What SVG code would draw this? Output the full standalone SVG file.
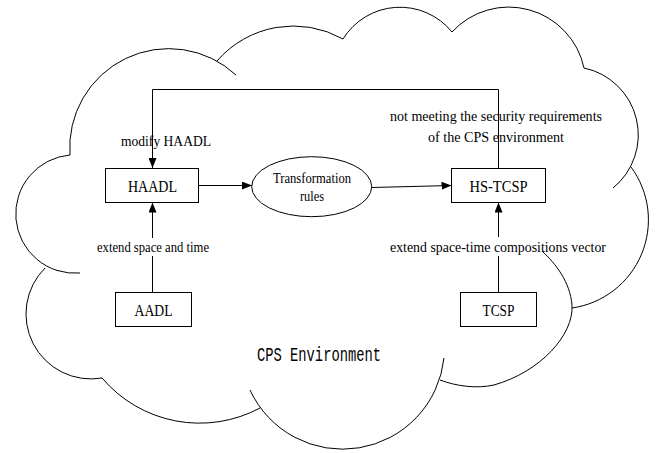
<svg xmlns="http://www.w3.org/2000/svg" width="657" height="453" viewBox="0 0 657 453">
<defs>
<marker id="arr" viewBox="0 0 10 8" markerWidth="10" markerHeight="8" refX="10" refY="4" orient="auto" markerUnits="userSpaceOnUse">
<path d="M0,0 L10,4 L0,8 z" fill="#000"/>
</marker>
<style>
.cloud{fill:none;stroke:#000;stroke-width:1}
.box{fill:#fff;stroke:#000;stroke-width:1}
.ln{fill:none;stroke:#000;stroke-width:1}
.lbl{font-family:"Liberation Serif","Times New Roman",serif;font-size:14px;fill:#000;text-anchor:middle}
.nt{font-family:"Liberation Serif","Times New Roman",serif;font-size:14px;fill:#000;text-anchor:middle}
.env{font-family:"Liberation Mono","Courier New",monospace;font-size:15px;fill:#000}
</style>
</defs>
<rect width="657" height="453" fill="#fff"/>
<g id="cloud">
<path class="cloud" d="M70,155 A99,99 0 0 1 236,75"/>
<path class="cloud" d="M217,61 A101,101 0 0 1 343,39"/>
<path class="cloud" d="M343,39 A67,67 0 0 1 452,32"/>
<path class="cloud" d="M452,32 A77,77 0 0 1 584,68"/>
<path class="cloud" d="M584,68 A68.4,68.4 0 0 1 613,188"/>
<path class="cloud" d="M631,167 A89,89 0 0 1 572,308"/>
<path class="cloud" d="M542,251 C556,264 570,282 572,305 C574,335 540,372 494,385 C476,389 456,386 440,380"/>
<path class="cloud" d="M444,358 A102,102 0 0 1 250,390"/>
<path class="cloud" d="M260,408 A128,128 0 0 1 102,378"/>
<path class="cloud" d="M102,378 A65,65 0 0 1 45,268"/>
<path class="cloud" d="M70,155 A59,59 0 1 0 80,273"/>
<text class="env" transform="translate(257,361) scale(1,1.4)" textLength="124" lengthAdjust="spacingAndGlyphs">CPS Environment</text>
</g>
<g id="connectors">
<path class="ln" d="M498.5,168 V89.5 H152.5 V168" marker-end="url(#arr)"/>
<path class="ln" d="M199,185.5 H252" marker-end="url(#arr)"/>
<path class="ln" d="M371.5,187.5 L451.5,185.5" marker-end="url(#arr)"/>
<path class="ln" d="M152.5,292 V256 M152.5,238 V202.5" marker-end="url(#arr)"/>
<path class="ln" d="M498.5,292 V256 M498.5,237 V202.5" marker-end="url(#arr)"/>
<text class="lbl" x="166" y="146" textLength="90" lengthAdjust="spacingAndGlyphs">modify HAADL</text>
<text class="lbl" x="496" y="121" textLength="212" lengthAdjust="spacingAndGlyphs">not meeting the security requirements</text>
<text class="lbl" x="496" y="142" textLength="136" lengthAdjust="spacingAndGlyphs">of the CPS environment</text>
<text class="lbl" x="153" y="252" font-size="13" textLength="112" lengthAdjust="spacingAndGlyphs">extend space and time</text>
<text class="lbl" x="498" y="252" textLength="216" lengthAdjust="spacingAndGlyphs">extend space-time compositions vector</text>
</g>
<g id="HAADL">
<rect class="box" x="105.5" y="168.5" width="93" height="34"/>
<text class="nt" transform="translate(152.5,192) scale(1,1.25)" textLength="49" lengthAdjust="spacingAndGlyphs">HAADL</text>
</g>
<g id="Transformation">
<ellipse class="box" cx="311.7" cy="186.7" rx="60" ry="30"/>
<text class="nt" x="312" y="182.5" font-size="14.5" textLength="78" lengthAdjust="spacingAndGlyphs">Transformation</text>
<text class="nt" x="312" y="200.5" font-size="14.5" textLength="24" lengthAdjust="spacingAndGlyphs">rules</text>
</g>
<g id="HS-TCSP">
<rect class="box" x="451.5" y="168.5" width="94" height="34"/>
<text class="nt" transform="translate(498.5,192) scale(1,1.25)" textLength="58" lengthAdjust="spacingAndGlyphs">HS-TCSP</text>
</g>
<g id="AADL">
<rect class="box" x="115.5" y="292.5" width="76" height="34"/>
<text class="nt" transform="translate(153.5,316) scale(1,1.25)" textLength="38" lengthAdjust="spacingAndGlyphs">AADL</text>
</g>
<g id="TCSP">
<rect class="box" x="460.5" y="292.5" width="76" height="34"/>
<text class="nt" transform="translate(498.5,316) scale(1,1.25)" textLength="32" lengthAdjust="spacingAndGlyphs">TCSP</text>
</g>
</svg>
